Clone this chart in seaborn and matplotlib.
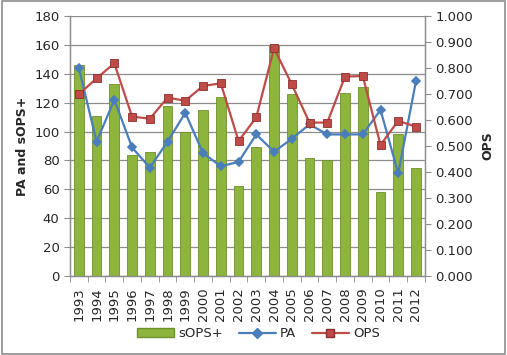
import matplotlib
matplotlib.use("Agg")
import matplotlib.pyplot as plt
from matplotlib.lines import Line2D
from matplotlib.patches import Patch, Rectangle
import numpy as np
import pandas as pd
import seaborn as sns

years = [str(y) for y in range(1993, 2013)]
sops_plus = [146, 111, 133, 84, 86, 118, 100, 115, 124, 62,
             89, 160, 126, 82, 80, 127, 131, 58, 98, 75]
pa = [144, 93, 122, 89, 75, 93, 113, 85, 76, 79,
      98, 86, 95, 105, 98, 98, 98, 115, 71, 135]
ops = [0.699, 0.760, 0.818, 0.613, 0.605, 0.686, 0.674, 0.731, 0.741, 0.519,
       0.610, 0.876, 0.737, 0.590, 0.590, 0.767, 0.769, 0.504, 0.597, 0.574]

df = pd.DataFrame({'Year': years, 'sOPS+': sops_plus, 'PA': pa, 'OPS': ops})

sns.set_style('white')
plt.rcParams['font.family'] = ['DejaVu Sans']

bar_col = '#8DB43C'
pa_col = '#4A7EBB'
ops_col = '#BE4B48'

fig = plt.figure(figsize=(5.07, 3.55), dpi=100)
ax = fig.add_axes([0.138, 0.2225, 0.700, 0.7325])
ax2 = ax.twinx()

sns.barplot(data=df, x='Year', y='sOPS+', ax=ax, color=bar_col, width=0.55,
            edgecolor='#6E8F2A', linewidth=0.6, saturation=1, zorder=2)
sns.pointplot(data=df, x='Year', y='PA', ax=ax, color=pa_col, markers='D',
              markersize=4.5, linewidth=1.6, zorder=4)
sns.pointplot(data=df, x='Year', y='OPS', ax=ax2, color=ops_col, markers='s',
              markersize=6, linewidth=1.6, zorder=4,
              markeredgecolor='#8E2E2C', markeredgewidth=0.6)

ax.set_ylim(0, 180)
ax.set_yticks(np.arange(0, 181, 20))
ax2.set_ylim(0, 1.0)
ax2.set_yticks(np.arange(0, 1.01, 0.1))
ax2.set_yticklabels([f'{v:.3f}' for v in np.arange(0, 1.01, 0.1)])
ax.set_xlim(-0.5, len(years) - 0.5)
ax2.set_xlim(-0.5, len(years) - 0.5)

ax.yaxis.grid(True, color='#8C8C8C', linewidth=0.9, zorder=0)
ax.set_axisbelow(True)
ax.set_xlabel('')
ax.set_ylabel('PA and sOPS+', fontsize=9, fontweight='bold', labelpad=4)
ax2.set_ylabel('OPS', fontsize=9, fontweight='bold', rotation=90, labelpad=6)

ax.tick_params(axis='x', labelrotation=90, labelsize=9.5, length=0, pad=8)
ax.tick_params(axis='y', labelsize=9.5, length=4, color='#8C8C8C', left=True,
               direction='out')
ax2.tick_params(axis='y', labelsize=9.5, length=4, color='#8C8C8C', right=True,
                direction='out')
ax.set_xticks(np.arange(len(years)))
ax.set_xticklabels(years)
ax.set_xticks(np.arange(-0.5, len(years), 1), minor=True)
ax.tick_params(axis='x', which='minor', length=4, color='#8C8C8C', bottom=True)

for a in (ax, ax2):
    for s in ['top']:
        a.spines[s].set_visible(False)
    for s in ['left', 'right', 'bottom']:
        a.spines[s].set_color('#8C8C8C')
        a.spines[s].set_linewidth(0.9)

handles = [
    Patch(facecolor=bar_col, edgecolor='#6E8F2A', label='sOPS+'),
    Line2D([0], [0], color=pa_col, marker='D', markersize=5, lw=1.6, label='PA'),
    Line2D([0], [0], color=ops_col, marker='s', markersize=6, lw=1.6,
           markeredgecolor='#8E2E2C', label='OPS'),
]
fig.legend(handles=handles, loc='center', bbox_to_anchor=(0.51, 0.06), ncol=3,
           frameon=False, fontsize=9.5, handlelength=2.8, columnspacing=1.2,
           handletextpad=0.3)

fig.patches.append(Rectangle((0.003, 0.004), 0.994, 0.992, transform=fig.transFigure,
                             fill=False, edgecolor='#8C8C8C', linewidth=1.2))

fig.savefig('out.png', dpi=100)
